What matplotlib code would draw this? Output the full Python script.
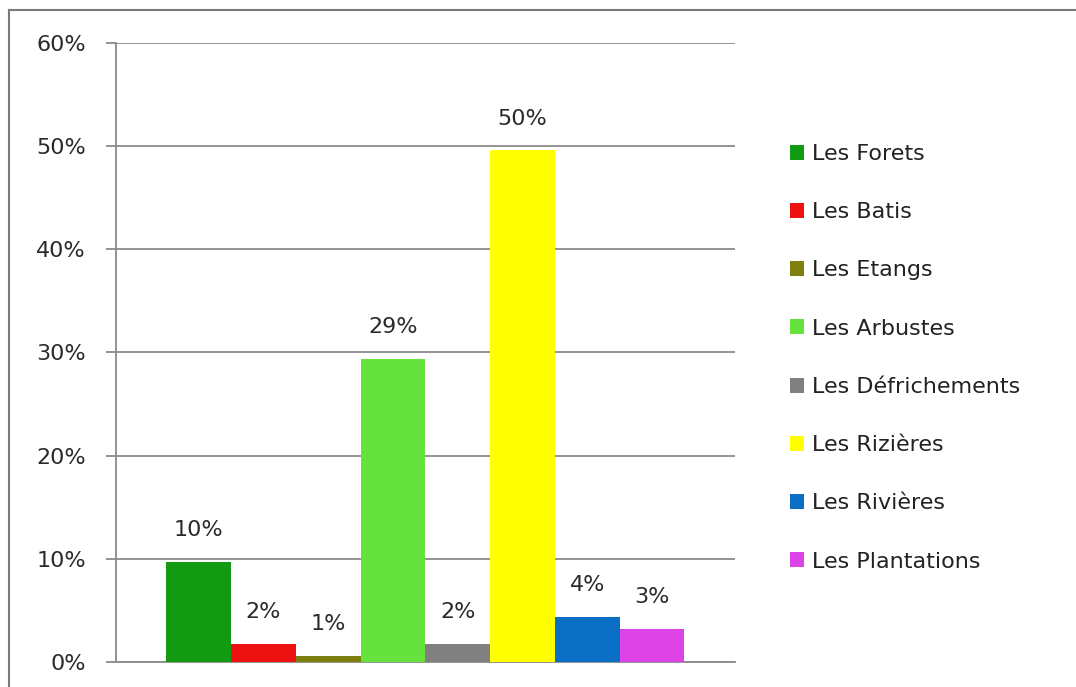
import matplotlib
matplotlib.use("Agg")
import matplotlib.pyplot as plt
from matplotlib.lines import Line2D
from matplotlib.patches import Patch
import numpy as np

categories = ["Les Forets", "Les Batis", "Les Etangs", "Les Arbustes",
              "Les Défrichements", "Les Rizières", "Les Rivières", "Les Plantations"]
values = [9.65, 1.74, 0.58, 29.4, 1.71, 49.6, 4.31, 3.16]
labels = ["10%", "2%", "1%", "29%", "2%", "50%", "4%", "3%"]
colors = ["#129a12", "#ee1111", "#7f7f10", "#66e23c", "#808080", "#ffff00", "#0a6fc4", "#dd44e8"]
yticks = [0, 10, 20, 30, 40, 50, 60]
ytick_labels = ["0%", "10%", "20%", "30%", "40%", "50%", "60%"]

plt.rcParams['font.family'] = ['DejaVu Sans']
W, H = 1076, 687
fig = plt.figure(figsize=(W / 100, H / 100), dpi=100)
fig.patch.set_facecolor("white")

ax = fig.add_axes([115.7 / W, 25.3 / H, (735 - 115.7) / W, (661.7 - 43.3) / H])
ax.set_xlim(-0.5, 0.5)
ax.set_ylim(0, 60)

n = len(values)
bw = 0.1046
xs = -bw * n / 2 + bw / 2 + np.arange(n) * bw
for x, v, c, lab, cat in zip(xs, values, colors, labels, categories):
    ax.bar(x, v, width=bw, color=c, label=cat, zorder=3)
    ax.annotate(lab, (x, v), xytext=(0, 23), textcoords="offset points",
                ha="center", va="center", fontsize=16, color="#2a2a2a")

ax.set_yticks(yticks)
ax.set_yticklabels(ytick_labels, fontsize=16, color="#2a2a2a")
ax.set_xticks([])
ax.yaxis.grid(True, color="#8a8a8a", linewidth=1.3, zorder=0)
ax.set_axisbelow(True)
for s in ["top", "right"]:
    ax.spines[s].set_visible(False)
ax.spines["left"].set_color("#8a8a8a")
ax.spines["left"].set_linewidth(1.3)
ax.spines["bottom"].set_color("#8a8a8a")
ax.spines["bottom"].set_linewidth(1.3)
ax.tick_params(axis="y", length=7.5, width=1.3, color="#8a8a8a", pad=14)
ax.tick_params(axis="x", length=0)

handles = [Patch(facecolor=c, edgecolor="none") for c in colors]
leg = fig.legend(handles, categories, loc="upper left",
                 bbox_to_anchor=(770 / W, 1 - 124 / H), frameon=False,
                 fontsize=16, labelcolor="#222222", handlelength=0.65,
                 handleheight=0.65, handletextpad=0.35, labelspacing=1.72)

# chart-area border (top and left visible)
fig.add_artist(Line2D([9 / W, 9 / W], [0, 1 - 10 / H], transform=fig.transFigure,
                      color="#7a7a7a", linewidth=1.5))
fig.add_artist(Line2D([9 / W, 1], [1 - 10 / H, 1 - 10 / H], transform=fig.transFigure,
                      color="#7a7a7a", linewidth=1.5))

fig.savefig("out.png", dpi=100, facecolor="white")
